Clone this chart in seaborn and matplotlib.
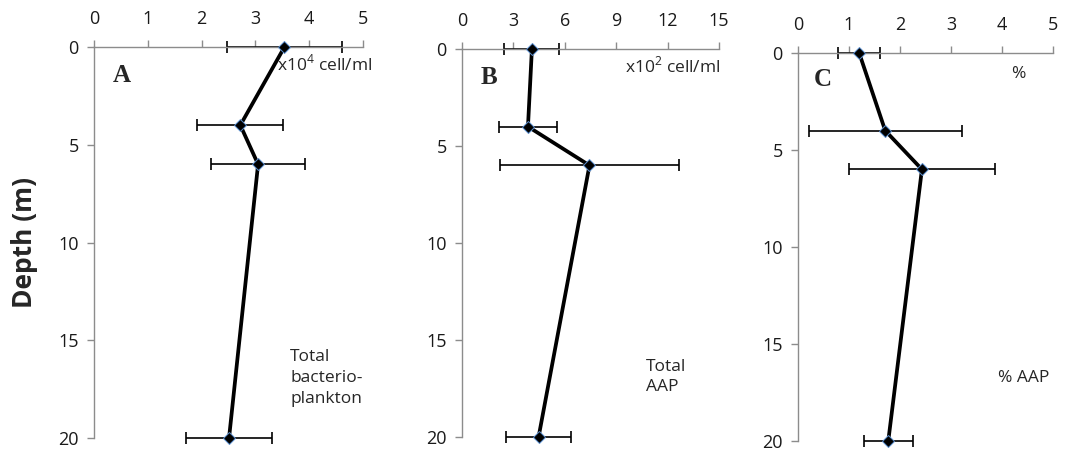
import numpy as np
import pandas as pd
import matplotlib
matplotlib.use('Agg')
import matplotlib.pyplot as plt
import seaborn as sns

# Depth profile data (depth in m)
depth = [0, 4, 6, 20]

# A: total bacterioplankton (x10^4 cell/ml)
bact_mean = [3.54, 2.72, 3.05, 2.51]
bact_err = [1.07, 0.80, 0.87, 0.80]

# B: total AAP (x10^2 cell/ml)
aap_mean = [4.08, 3.85, 7.44, 4.47]
aap_err = [1.60, 1.68, 5.25, 1.90]

# C: % AAP
pct_mean = [1.20, 1.71, 2.43, 1.77]
pct_err = [0.41, 1.50, 1.43, 0.48]

x_limits = [(0, 5), (0, 15), (0, 5)]
x_ticks = [[0, 1, 2, 3, 4, 5], [0, 3, 6, 9, 12, 15], [0, 1, 2, 3, 4, 5]]
panel_letters = ['A', 'B', 'C']
unit_labels = ['x10$^4$ cell/ml', 'x10$^2$ cell/ml', '%']
side_labels = ['Total\nbacterio-\nplankton', 'Total\nAAP', '% AAP']

sns.set_theme(style='white')
plt.rcParams['font.family'] = ['Open Sans', 'DejaVu Sans']
plt.rcParams['mathtext.fontset'] = 'custom'
plt.rcParams['mathtext.rm'] = 'Open Sans'

W, H = 1065, 453
fig = plt.figure(figsize=(W / 100, H / 100), dpi=100)

# axes boxes in pixels: left, top, right, bottom
boxes = [(94, 47, 363, 438), (462, 49, 719, 437), (798, 53, 1053, 441)]
axes = []
for (l, t, r, b) in boxes:
    axes.append(fig.add_axes([l / W, 1 - b / H, (r - l) / W, (b - t) / H]))

spine_col = '#8c8c8c'
series = [(bact_mean, bact_err), (aap_mean, aap_err), (pct_mean, pct_err)]

for i, ax in enumerate(axes):
    mean, err = series[i]
    df = pd.DataFrame({'value': mean, 'depth': depth})
    ax.errorbar(df['value'], df['depth'], xerr=err, fmt='none', ecolor='black',
                elinewidth=1.2, capsize=4, capthick=1.2, zorder=2, clip_on=False)
    sns.lineplot(data=df, x='value', y='depth', orient='y', sort=False, ax=ax,
                 color='black', linewidth=2.7, marker='D', markersize=6.5,
                 markerfacecolor='black', markeredgecolor='#5b8fd0',
                 markeredgewidth=0.7, zorder=3, clip_on=False)
    ax.set_xlim(*x_limits[i])
    ax.set_ylim(20, 0)
    ax.set_xticks(x_ticks[i])
    ax.set_yticks([0, 5, 10, 15, 20])
    ax.xaxis.tick_top()
    ax.set_xlabel('')
    ax.set_ylabel('')
    for s in ['bottom', 'right']:
        ax.spines[s].set_visible(False)
    for s in ['top', 'left']:
        ax.spines[s].set_color(spine_col)
        ax.spines[s].set_linewidth(1.0)
    ax.tick_params(axis='both', which='major', length=5, width=1.0,
                   color=spine_col, labelsize=13, labelcolor='#1a1a1a',
                   direction='out', pad=6)
    ax.tick_params(axis='x', top=True, bottom=False, pad=9)
    ax.tick_params(axis='y', left=True)
    ax.grid(False)
    ax.patch.set_alpha(0)

# panel letters
for (x, y), s in zip([(122, 75), (489, 78), (823, 80)], panel_letters):
    fig.text(x / W, 1 - y / H, s, ha='center', va='center', fontsize=18,
             fontweight='bold', family='Liberation Serif')

# unit labels
fig.text(277 / W, 1 - 64 / H, unit_labels[0], ha='left', va='center', fontsize=12.5)
fig.text(625 / W, 1 - 66 / H, unit_labels[1], ha='left', va='center', fontsize=12.5)
fig.text(1018 / W, 1 - 74 / H, unit_labels[2], ha='center', va='center', fontsize=12.5)

# side labels
fig.text(290 / W, 1 - 378 / H, side_labels[0], ha='left', va='center',
         fontsize=12.5, linespacing=1.4)
fig.text(646 / W, 1 - 377 / H, side_labels[1], ha='left', va='center',
         fontsize=12.5, linespacing=1.4)
fig.text(998 / W, 1 - 378 / H, side_labels[2], ha='left', va='center', fontsize=12.5)

fig.text(24 / W, 1 - 243 / H, 'Depth (m)', rotation=90, ha='center', va='center',
         fontsize=19, fontweight='bold')

fig.savefig('out.png', dpi=100, facecolor='white')
